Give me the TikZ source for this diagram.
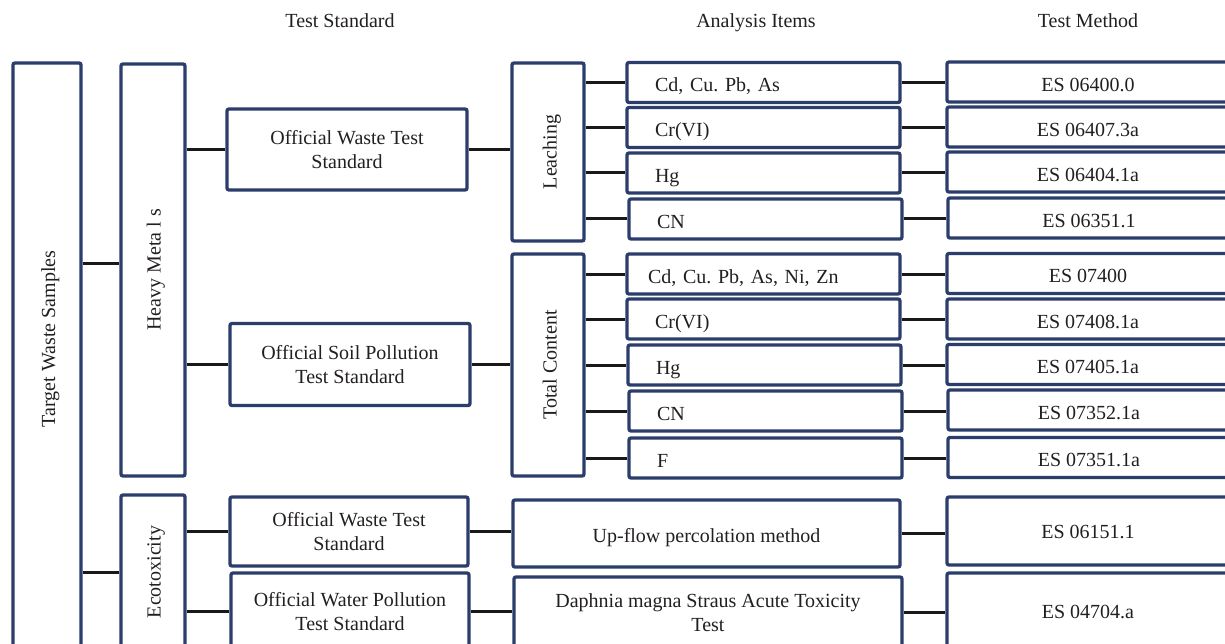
\documentclass[tikz,border=0pt]{standalone}
\usepackage{fontspec}
\setmainfont{Liberation Serif}
\frenchspacing
\definecolor{boxblue}{HTML}{2B3D6B}
\definecolor{txt}{HTML}{231F20}
\tikzset{
  base/.style={font=\fontsize{20}{23.5}\selectfont, text=txt, inner sep=0pt},
  oneline/.style={text height=18.4pt, text depth=0pt},
  capsmid/.style={text height=13.2pt, text depth=0pt},
  box/.style={base, draw=boxblue, line width=3.3pt, rounded corners=2pt, align=center},
  itembox/.style={box, oneline, align=left, text width=217pt, inner xsep=28pt, minimum height=40pt},
  methbox/.style={box, oneline, minimum width=282pt, minimum height=40pt},
  vlabel/.style={base, capsmid, rotate=90},
  conn/.style={line width=3pt, black!90},
}
\begin{document}
\begin{tikzpicture}[x=1pt,y=-1pt]
\useasboundingbox (0,0) rectangle (1225,644);
\clip (0,0) rectangle (1225,644);
\fill[white] (0,0) rectangle (1225,644);

% headers
\node[base, capsmid] (h1) at (340,21) {Test Standard};
\node[base, capsmid] (h2) at (756,21) {Analysis Items};
\node[base, capsmid] (h3) at (1088,21) {Test Method};

% vertical boxes
\node[box, minimum width=68pt, minimum height=597pt] (target) at (47,361.5) {};
\node[vlabel] (targett) at (48.5,339) {Target Waste Samples};
\node[box, minimum width=64pt, minimum height=412pt] (heavy) at (153,270) {};
\node[vlabel] (heavyt) at ([xshift=1pt]heavy.center) {Heavy Meta l s};
\node[box, minimum width=64pt, minimum height=154pt] (eco) at (153,572) {};
\node[vlabel] (ecot) at ([xshift=1pt]eco.center) {Ecotoxicity};
\node[box, minimum width=72pt, minimum height=178pt] (leach) at (548,152) {};
\node[vlabel] (leacht) at ([xshift=2pt]leach.center) {Leaching};
\node[box, minimum width=72pt, minimum height=222pt] (total) at (548,365) {};
\node[vlabel] (totalt) at ([xshift=2pt]total.center) {Total Content};

% test standards
\node[box, minimum width=240pt, minimum height=81pt] (owts1) at (347,149.5) {Official Waste Test\\Standard};
\node[box, minimum width=240pt, minimum height=82pt] (ospts) at (350,364.5) {Official Soil Pollution\\Test Standard};
\node[box, minimum width=238pt, minimum height=69pt] (owts2) at (349,531.5) {Official Waste Test\\Standard};
\node[box, minimum width=238pt, minimum height=77pt] (owpts) at (350,611.5) {Official Water Pollution\\Test Standard};

% leaching items
\node[itembox] (l1) at (763.5,82.5) {Cd, Cu. Pb, As};
\node[itembox] (l2) at (763.5,127.5) {Cr(VI)};
\node[itembox] (l3) at (763.5,173) {Hg};
\node[itembox] (l4) at (765.5,219) {CN};
% total content items
\node[itembox, inner xsep=21pt, text width=231pt] (t1) at (763.5,274) {Cd, Cu. Pb, As, Ni, Zn};
\node[itembox] (t2) at (763.5,319) {Cr(VI)};
\node[itembox] (t3) at (764.5,365) {Hg};
\node[itembox] (t4) at (765.5,411) {CN};
\node[itembox] (t5) at (765.5,458) {F};
% ecotox items
\node[box, oneline, minimum width=387pt, minimum height=67pt] (up) at (706.5,533.5) {Up-flow percolation method};
\node[box, minimum width=388pt, minimum height=71pt] (daph) at (708,612.5) {Daphnia magna Straus Acute Toxicity\\Test};

% methods
\node[methbox] (m1) at (1088,82) {ES 06400.0};
\node[methbox] (m2) at (1088,127) {ES 06407.3a};
\node[methbox] (m3) at (1088,172) {ES 06404.1a};
\node[methbox] (m4) at (1089,218) {ES 06351.1};
\node[methbox] (m5) at (1088,273.5) {ES 07400};
\node[methbox] (m6) at (1088,319) {ES 07408.1a};
\node[methbox] (m7) at (1088,364.5) {ES 07405.1a};
\node[methbox] (m8) at (1089,410) {ES 07352.1a};
\node[methbox] (m9) at (1089,457.5) {ES 07351.1a};
\node[methbox, minimum height=68pt, text height=15pt] (m10) at (1088,531) {ES 06151.1};
\node[methbox, minimum height=78pt, text height=13pt] (m11) at (1088,612) {ES 04704.a};

% connectors
\draw[conn] (target.east |- 0,263) coordinate (c1) -- (heavy.west |- c1);
\draw[conn] (target.east |- eco.west) -- (eco.west);
\draw[conn] (heavy.east |- owts1.west) -- (owts1.west);
\draw[conn] (heavy.east |- ospts.west) -- (ospts.west);
\draw[conn] (eco.east |- owts2.west) -- (owts2.west);
\draw[conn] (eco.east |- owpts.west) -- (owpts.west);
\draw[conn] (owts1.east) -- (owts1.east -| leach.west);
\draw[conn] (ospts.east) -- (ospts.east -| total.west);
\draw[conn] (owts2.east) -- (owts2.east -| up.west);
\draw[conn] (owpts.east) -- (owpts.east -| daph.west);
\foreach \i/\m in {l1/m1,l2/m2,l3/m3,l4/m4}{
  \draw[conn] (leach.east |- \i.west) -- (\i.west);
  \draw[conn] (\i.east) -- (\i.east -| \m.west);
}
\foreach \i/\m in {t1/m5,t2/m6,t3/m7,t4/m8,t5/m9}{
  \draw[conn] (total.east |- \i.west) -- (\i.west);
  \draw[conn] (\i.east) -- (\i.east -| \m.west);
}
\draw[conn] (up.east) -- (up.east -| m10.west);
\draw[conn] (daph.east) -- (daph.east -| m11.west);
\end{tikzpicture}
\end{document}
